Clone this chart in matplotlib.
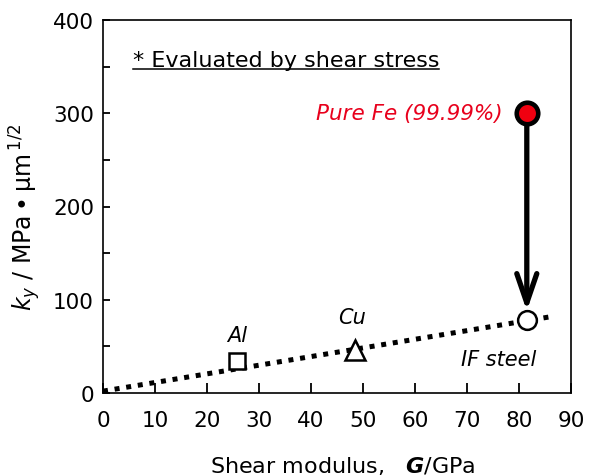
import matplotlib
matplotlib.use("Agg")
import matplotlib.pyplot as plt

plt.rcParams['font.family'] = ['DejaVu Sans']
plt.rcParams['mathtext.fontset'] = 'dejavusans'

# data
metals = ["Al", "Cu", "IF steel"]
shear_modulus = [25.8, 48.5, 81.5]
ky_values = [34.3, 46.0, 78.0]
fe_G = 81.5
fe_ky = 300.0
fe_label = "Pure Fe (99.99%)"
trend_G = [0.0, 86.3]
trend_ky = [2.0, 82.0]
arrow_start_ky = 290.0
arrow_end_ky = 88.0
xticks = [0, 10, 20, 30, 40, 50, 60, 70, 80, 90]
yticks = [0, 50, 100, 150, 200, 250, 300, 350, 400]
ytick_labels = ["0", "", "100", "", "200", "", "300", "", "400"]
label_pos = {"Al": (25.8, 62), "Cu": (47.9, 81.5), "IF steel": (76.1, 36.5)}

fig = plt.figure(figsize=(5.89, 4.77), dpi=100)
ax = fig.add_axes([103/589, 1-394/477, 468/589, 373/477])

ax.set_xlim(0, 90)
ax.set_ylim(0, 400)

ax.plot(trend_G, trend_ky, color='black', lw=3.6, linestyle=(0, (1, 1.35)),
        dash_capstyle='butt', zorder=2)

ax.annotate("", xy=(fe_G, arrow_end_ky), xytext=(fe_G, arrow_start_ky),
            arrowprops=dict(arrowstyle='->, head_length=2.1, head_width=0.72',
                            mutation_scale=10, lw=3.8, color='black',
                            shrinkA=0, shrinkB=0), zorder=3)

markers = ['s', '^', 'o']
msizes = [11, 15, 13.5]
for g, k, m, s in zip(shear_modulus, ky_values, markers, msizes):
    ax.plot([g], [k], marker=m, markersize=s, markerfacecolor='white',
            markeredgecolor='black', markeredgewidth=1.8, linestyle='none', zorder=4)

ax.plot([fe_G], [fe_ky], marker='o', markersize=15.5, markerfacecolor='#f00010',
        markeredgecolor='black', markeredgewidth=3.3, linestyle='none', zorder=4)

for name in metals:
    x, y = label_pos[name]
    ax.text(x, y, name, fontsize=15, style='italic', ha='center', va='center')

ax.text(76.9, fe_ky, fe_label, color='#e8001c', fontsize=15.5, style='italic',
        ha='right', va='center')

note = ax.text(0.064, 0.877, "* Evaluated by shear stress", transform=ax.transAxes,
               fontsize=16, ha='left', va='baseline')

ax.set_xticks(xticks)
ax.set_xticklabels([str(t) for t in xticks])
ax.set_yticks(yticks)
ax.set_yticklabels(ytick_labels)
ax.tick_params(axis='x', direction='in', length=7, width=1.3, labelsize=15.5, pad=12.5)
ax.tick_params(axis='y', direction='in', length=5, width=1.3, labelsize=15.5, pad=6.5)
for sp in ax.spines.values():
    sp.set_linewidth(1.2)

ax.set_xlabel("Shear modulus,   $\\mathbfit{G}$/GPa", fontsize=16, va='center')
ax.xaxis.set_label_coords(0.513, -0.194)
ax.set_ylabel("$\\mathit{k}_{\\mathit{y}}$ / MPa\u2009\u2022\u2009\u03bcm$^{\\,1/2}$",
              fontsize=17, va='center')
ax.yaxis.set_label_coords(-0.167, 0.472)

fig.canvas.draw()
bb = note.get_window_extent().transformed(ax.transAxes.inverted())
uy = 0.877 - 0.0075
ax.plot([bb.x0, bb.x1], [uy, uy], transform=ax.transAxes, color='black', lw=1.1,
        clip_on=False)

fig.savefig("out.png", dpi=100)
